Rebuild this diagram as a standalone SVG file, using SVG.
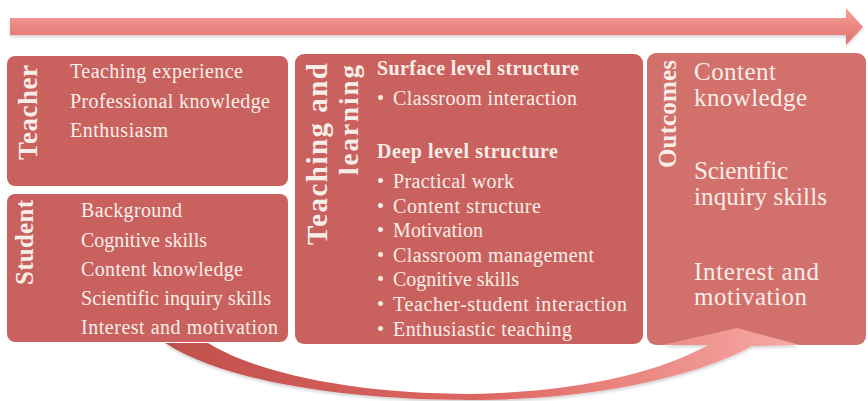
<svg xmlns="http://www.w3.org/2000/svg" width="868" height="401" viewBox="0 0 868 401">
<defs>
<linearGradient id="topArrow" x1="0" y1="0" x2="0" y2="1">
<stop offset="0" stop-color="#f5a19c"/>
<stop offset="1" stop-color="#e26f6a"/>
</linearGradient>
<linearGradient id="curveArrow" x1="165" y1="0" x2="800" y2="0" gradientUnits="userSpaceOnUse">
<stop offset="0" stop-color="#c0504c"/>
<stop offset="0.5" stop-color="#de6661"/>
<stop offset="1" stop-color="#f7aaa5"/>
</linearGradient>
<filter id="sh" x="-5%" y="-20%" width="110%" height="160%">
<feDropShadow dx="0" dy="2" stdDeviation="1.5" flood-color="#000" flood-opacity="0.18"/>
</filter>
</defs>
<style>
.box{fill:#c9625e;}
.box2{fill:#d2716c;}
.t{font-family:"Liberation Serif","Times New Roman",serif;fill:#f8eee9;font-size:20px;}
.b{font-weight:bold;}
.o{font-size:25px;}
</style>
<rect width="868" height="401" fill="#ffffff"/>

<g id="connectors">
<path id="top-arrow" d="M10,18 H846 V8 L863,27 L846,45 V35 H10 Z" fill="url(#topArrow)" filter="url(#sh)"/>
</g>

<g id="teacher">
<rect class="box" x="7" y="56" width="281" height="130" rx="8"/>
<text class="t b" style="font-size:27px" transform="translate(37,160) rotate(-90)" textLength="95">Teacher</text>
<text class="t" x="70" y="78" textLength="173">Teaching experience</text>
<text class="t" x="70" y="108" textLength="200">Professional knowledge</text>
<text class="t" x="70" y="137" textLength="98">Enthusiasm</text>
</g>

<g id="student">
<rect class="box" x="7" y="194" width="281" height="148" rx="8"/>
<text class="t b" style="font-size:25px" transform="translate(33,285) rotate(-90)" textLength="85">Student</text>
<text class="t" x="81" y="217" textLength="101">Background</text>
<text class="t" x="81" y="247" textLength="126">Cognitive skills</text>
<text class="t" x="81" y="276" textLength="162">Content knowledge</text>
<text class="t" x="81" y="305" textLength="190">Scientific inquiry skills</text>
<text class="t" x="81" y="334" textLength="197">Interest and motivation</text>
</g>

<g id="teaching-learning">
<rect class="box" x="295" y="54" width="348" height="290" rx="9"/>
<text class="t b" style="font-size:29px" transform="translate(327,245) rotate(-90)" textLength="182">Teaching and</text>
<text class="t b" style="font-size:27px" transform="translate(358,175) rotate(-90)" textLength="110">learning</text>
<text class="t b" x="377" y="75" textLength="202">Surface level structure</text>
<text class="t" x="377" y="105">•</text>
<text class="t" x="393" y="105" textLength="184">Classroom interaction</text>
<text class="t b" x="377" y="158" textLength="181">Deep level structure</text>
<text class="t" x="377" y="188">•</text>
<text class="t" x="393" y="188" textLength="121">Practical work</text>
<text class="t" x="377" y="213">•</text>
<text class="t" x="393" y="213" textLength="148">Content structure</text>
<text class="t" x="377" y="237">•</text>
<text class="t" x="393" y="237" textLength="90">Motivation</text>
<text class="t" x="377" y="262">•</text>
<text class="t" x="393" y="262" textLength="201">Classroom management</text>
<text class="t" x="377" y="286">•</text>
<text class="t" x="393" y="286" textLength="126">Cognitive skills</text>
<text class="t" x="377" y="311">•</text>
<text class="t" x="393" y="311" textLength="234">Teacher-student interaction</text>
<text class="t" x="377" y="336">•</text>
<text class="t" x="393" y="336" textLength="179">Enthusiastic teaching</text>
</g>

<g id="outcomes">
<rect class="box2" x="647" y="53" width="219" height="292" rx="9"/>
<text class="t b" style="font-size:25px" transform="translate(676,168) rotate(-90)" textLength="108">Outcomes</text>
<text class="t o" x="694" y="80" textLength="82">Content</text>
<text class="t o" x="694" y="106" textLength="113">knowledge</text>
<text class="t o" x="694" y="179" textLength="94">Scientific</text>
<text class="t o" x="694" y="205" textLength="133">inquiry skills</text>
<text class="t o" x="694" y="280" textLength="125">Interest and</text>
<text class="t o" x="694" y="305" textLength="113">motivation</text>
</g>

<g id="connectors-curve">
<path id="curve-arrow" d="M165,343 C230,385 360,400 470,400 C600,400 700,375 752,346 L800,345 L737,328 L662,345 L708,345 C660,372 580,392 470,394 C360,394 260,375 208,343 Z" fill="url(#curveArrow)" filter="url(#sh)"/>
</g>
</svg>
